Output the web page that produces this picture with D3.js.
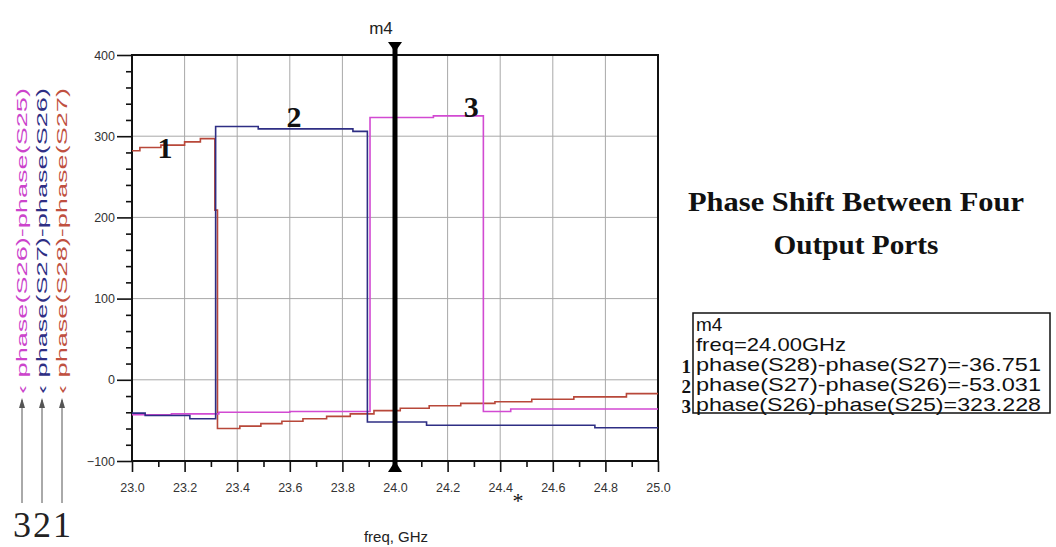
<!DOCTYPE html>
<html><head><meta charset="utf-8">
<script src="https://cdn.jsdelivr.net/npm/d3@7"></script>
<style>body{margin:0;background:#fff}svg{display:block}</style>
</head><body>
<svg id="c" width="1056" height="547"></svg>
<script>
// ---- data ----
const xMajorTicks = [23.0, 23.2, 23.4, 23.6, 23.8, 24.0, 24.2, 24.4, 24.6, 24.8, 25.0];
const xMinorTicks = [23.1, 23.3, 23.5, 23.7, 23.9, 24.1, 24.3, 24.5, 24.7, 24.9];
const yMajorTicks = [-100, 0, 100, 200, 300, 400];
const yMinorTicks = [-80, -60, -40, -20, 20, 40, 60, 80, 120, 140, 160, 180, 220, 240, 260, 280, 320, 340, 360, 380];

// series 1: phase(S28)-phase(S27)
const freq1 = [23.00, 23.03, 23.11, 23.20, 23.26, 23.315, 23.325, 23.41, 23.49, 23.57, 23.65, 23.74, 23.83, 23.92, 24.02, 24.13, 24.25, 24.38, 24.52, 24.68, 24.88, 25.00];
const val1  = [282, 286, 289, 293, 297, 209, -60, -57, -54, -51, -48, -45, -42, -38, -35, -32, -29, -27, -24, -21, -17, -17];
// series 2: phase(S27)-phase(S26)
const freq2 = [23.00, 23.05, 23.22, 23.318, 23.48, 23.84, 23.895, 24.12, 24.76, 25.00];
const val2  = [-41, -44, -48, 312, 309, 306, -52, -56, -59, -59];
// series 3: phase(S26)-phase(S25)
const freq3 = [23.00, 23.15, 23.33, 23.60, 23.905, 24.146, 24.336, 24.44, 25.00];
const val3  = [-43, -42, -40, -39, 323, 325, -39, -36, -36];

const seriesNames = ["phase(S28)-phase(S27)", "phase(S27)-phase(S26)", "phase(S26)-phase(S25)"];
const seriesColors = ["#b8483a", "#2e2e84", "#d24ad2"];
const markerFreq = 24.0;
const markerValues = ["-36.751", "-53.031", "323.228"];

// ---- layout ----
const svg = d3.select("#c");
const L = 132, R = 658, T = 55, B = 461;
const x = d3.scaleLinear().domain([23.0, 25.0]).range([L, R]);
const y = d3.scaleLinear().domain([-100, 400]).range([B, T]);

// grid
svg.append("g").selectAll("line").data(xMajorTicks.slice(1, -1)).join("line")
  .attr("x1", d => x(d)).attr("x2", d => x(d)).attr("y1", T).attr("y2", B)
  .attr("stroke", "#a8a8a8").attr("stroke-width", 1);
svg.append("g").selectAll("line").data(yMajorTicks.slice(1, -1)).join("line")
  .attr("x1", L).attr("x2", R).attr("y1", d => y(d)).attr("y2", d => y(d))
  .attr("stroke", "#a8a8a8").attr("stroke-width", 1);

// axes
const fontAx = "'Liberation Sans', Arial, sans-serif";
svg.append("g").attr("transform", `translate(${L},0)`)
  .call(d3.axisLeft(y).tickValues(yMajorTicks).tickSize(15).tickPadding(2).tickFormat(d3.format("d")));
svg.append("g").attr("transform", `translate(${L},0)`)
  .call(d3.axisLeft(y).tickValues(yMinorTicks).tickSize(6).tickFormat(""));
svg.append("g").attr("transform", `translate(0,${B})`)
  .call(d3.axisBottom(x).tickValues(xMajorTicks).tickSize(11).tickPadding(11).tickFormat(d3.format(".1f")));
svg.append("g").attr("transform", `translate(0,${B})`)
  .call(d3.axisBottom(x).tickValues(xMinorTicks).tickSize(6).tickFormat(""));
svg.selectAll(".domain").remove();
svg.selectAll(".tick line").attr("stroke", "#111").attr("stroke-width", 1.6);
svg.selectAll(".tick text").attr("font-family", fontAx).attr("font-size", 12.5).attr("fill", "#333");

// frame
svg.append("rect").attr("x", L).attr("y", T).attr("width", R - L).attr("height", B - T)
  .attr("fill", "none").attr("stroke", "#111").attr("stroke-width", 2);

// series
const line = d3.line().x(d => x(d[0])).y(d => y(d[1])).curve(d3.curveStepAfter);
const allSeries = [d3.zip(freq1, val1), d3.zip(freq2, val2), d3.zip(freq3, val3)];
[0, 2, 1].forEach(i => {
  svg.append("path").datum(allSeries[i]).attr("d", line)
    .attr("fill", "none").attr("stroke", seriesColors[i]).attr("stroke-width", 1.6);
});

// curve number labels
const fontSerif = "'Liberation Serif', 'Times New Roman', serif";
const curveLabels = [["1", 23.125, 273], ["2", 23.616, 311], ["3", 24.29, 324]];
curveLabels.forEach(d => svg.append("text").attr("x", x(d[1])).attr("y", y(d[2]))
  .attr("text-anchor", "middle").attr("font-family", fontSerif).attr("font-weight", "bold")
  .attr("font-size", 30).attr("fill", "#111").text(d[0]));

// marker m4
const mx = x(markerFreq);
svg.append("line").attr("x1", mx).attr("x2", mx).attr("y1", 48).attr("y2", 466)
  .attr("stroke", "#000").attr("stroke-width", 5);
svg.append("path").attr("d", `M${mx-7},42 L${mx+7},42 L${mx},52 Z`).attr("fill", "#000");
svg.append("path").attr("d", `M${mx-7},472 L${mx+7},472 L${mx},461 Z`).attr("fill", "#000");
svg.append("text").attr("x", mx - 14).attr("y", 34).attr("text-anchor", "middle")
  .attr("font-family", fontAx).attr("font-size", 17).attr("fill", "#222").text("m4");

// x axis title
svg.append("text").attr("x", 396).attr("y", 542).attr("text-anchor", "middle")
  .attr("font-family", fontAx).attr("font-size", 15).attr("fill", "#222").text("freq, GHz");

// asterisk
svg.append("text").attr("x", 518).attr("y", 508).attr("text-anchor", "middle")
  .attr("font-family", fontSerif).attr("font-size", 22).attr("fill", "#111").text("*");

// left rotated legend
const legX = [62, 42, 22];
const legColors = ["#c05040", "#2e2e84", "#cc44cc"];
seriesNames.forEach((n, i) => {
  svg.append("text").attr("transform", `translate(${legX[i] + 5},394) rotate(-90)`)
    .attr("font-family", fontAx).attr("font-size", 15).attr("fill", legColors[i])
    .attr("textLength", 306).attr("lengthAdjust", "spacingAndGlyphs")
    .text("\u2039 " + n);
});
// arrows and numbers
const arrowNums = ["1", "2", "3"];
arrowNums.forEach((n, i) => {
  const ax = legX[i];
  svg.append("line").attr("x1", ax).attr("x2", ax).attr("y1", 503).attr("y2", 400)
    .attr("stroke", "#555").attr("stroke-width", 1);
  svg.append("path").attr("d", `M${ax-3},408 L${ax+3},408 L${ax},398 Z`).attr("fill", "#555");
  svg.append("text").attr("x", ax).attr("y", 537).attr("text-anchor", "middle")
    .attr("font-family", fontSerif).attr("font-size", 36).attr("fill", "#222").text(n);
});

// title
const titleLines = ["Phase Shift Between Four", "Output Ports"];
svg.append("text").attr("x", 856).attr("y", 211).attr("text-anchor", "middle")
  .attr("font-family", fontSerif).attr("font-weight", "bold").attr("font-size", 28)
  .attr("textLength", 336).attr("lengthAdjust", "spacingAndGlyphs").attr("fill", "#111").text(titleLines[0]);
svg.append("text").attr("x", 856).attr("y", 254).attr("text-anchor", "middle")
  .attr("font-family", fontSerif).attr("font-weight", "bold").attr("font-size", 28)
  .attr("textLength", 165).attr("lengthAdjust", "spacingAndGlyphs").attr("fill", "#111").text(titleLines[1]);

// marker readout box
const bx = 693, by = 313, bw = 357, bh = 100;
svg.append("rect").attr("x", bx).attr("y", by).attr("width", bw).attr("height", bh)
  .attr("fill", "#fff").attr("stroke", "#111").attr("stroke-width", 1.5);
const boxLines = ["m4", "freq=" + markerFreq.toFixed(2) + "GHz"].concat(seriesNames.map((n, i) => n + "=" + markerValues[i]));
boxLines.forEach((t, i) => {
  const tx = svg.append("text").attr("x", bx + 3).attr("y", by + 18 + i * 20)
    .attr("font-family", fontAx).attr("font-size", 19).attr("fill", "#111").text(t);
  if (i >= 2) tx.attr("textLength", 345).attr("lengthAdjust", "spacingAndGlyphs");
  if (i === 1) tx.attr("textLength", 150).attr("lengthAdjust", "spacingAndGlyphs");
  if (i >= 2) svg.append("text").attr("x", bx - 2).attr("y", by + 20 + i * 20).attr("text-anchor", "end")
    .attr("font-family", fontSerif).attr("font-weight", "bold").attr("font-size", 19).attr("fill", "#111").text(String(i - 1));
});
</script>
</body></html>
